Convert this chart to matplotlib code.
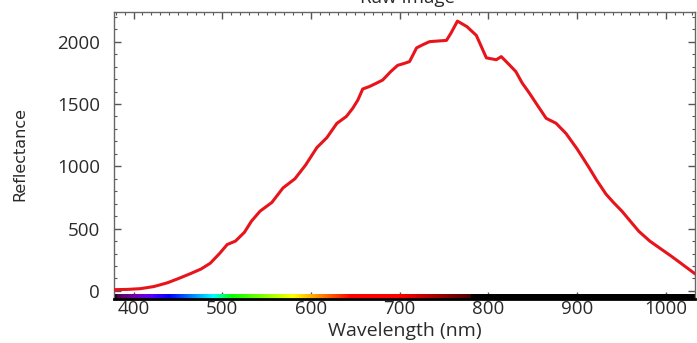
import numpy as np
import matplotlib
matplotlib.use("Agg")
import matplotlib.pyplot as plt
from matplotlib.ticker import MultipleLocator

wavelength = [378.7, 393, 407.9, 423, 438.2, 451, 464.0, 476, 486.5, 497, 505.6, 515, 525,
              533, 542.7, 556, 568.5, 582, 594, 606.7, 618, 629.2, 640, 647.2, 652.8, 658.4,
              666, 674.2, 680.9, 690, 697.8, 705, 711.2, 719.1, 726, 733.7, 743, 752.8,
              758, 765.2, 776, 786.5, 797.8, 809.0, 814.6, 823.6, 831, 838.2, 846, 853.9,
              865.2, 876.4, 887.6, 900, 913.5, 922, 932.6, 941, 950.6, 960, 969.7, 982,
              995.5, 1005, 1014.6, 1024, 1032.5]
reflectance = [10, 12, 18, 35, 65, 100, 138, 175, 222, 300, 372, 400, 470,
               560, 640, 710, 826, 900, 1010, 1150, 1230, 1344, 1400, 1466, 1530, 1620,
               1640, 1668, 1692, 1760, 1810, 1825, 1840, 1950, 1975, 2000, 2005, 2010,
               2070, 2165, 2120, 2050, 1870, 1855, 1880, 1815, 1760, 1668, 1590, 1505,
               1385, 1345, 1263, 1140, 990, 890, 777, 710, 640, 560, 478, 400,
               332, 285, 235, 185, 140]

title_text = "Raw Image"
x_label = "Wavelength (nm)"
y_label = "Reflectance"


def wl_to_rgb(w):
    if 380 <= w < 440:
        r, g, b = -(w - 440) / 60, 0.0, 1.0
    elif 440 <= w < 490:
        r, g, b = 0.0, (w - 440) / 50, 1.0
    elif 490 <= w < 510:
        r, g, b = 0.0, 1.0, -(w - 510) / 20
    elif 510 <= w < 580:
        r, g, b = (w - 510) / 70, 1.0, 0.0
    elif 580 <= w < 645:
        r, g, b = 1.0, -(w - 645) / 65, 0.0
    elif 645 <= w <= 780:
        r, g, b = 1.0, 0.0, 0.0
    else:
        r, g, b = 0.0, 0.0, 0.0
    if w < 380:
        f = 0.3
    elif w < 420:
        f = 0.3 + 0.7 * (w - 380) / 40
    elif w <= 700:
        f = 1.0
    elif w <= 780:
        f = 0.3 + 0.7 * (780 - w) / 80
    else:
        f = 0.0
    return (r * f, g * f, b * f)


fig = plt.figure(figsize=(6.97, 3.43), dpi=100)
ax = fig.add_axes([114 / 697, 44 / 343, 581 / 697, 287 / 343])

ax.plot(wavelength, reflectance, color="#e8141c", lw=2.2, zorder=3)

xmin, xmax = 378, 1033
ymin, ymax = -65, 2238

wl_grid = np.linspace(xmin, xmax, 700)
band = np.array([[wl_to_rgb(w) for w in wl_grid]])
ax.imshow(band, extent=[xmin, xmax, ymin, ymin + 35], aspect="auto", zorder=2,
          interpolation="bilinear")
ax.set_xlim(xmin, xmax)
ax.set_ylim(ymin, ymax)

ax.xaxis.set_major_locator(MultipleLocator(100))
ax.xaxis.set_minor_locator(MultipleLocator(10))
ax.yaxis.set_major_locator(MultipleLocator(500))
ax.yaxis.set_minor_locator(MultipleLocator(100))
ax.tick_params(which="both", direction="in", top=True, right=True, color="#555555")
ax.tick_params(which="major", length=5, width=1)
ax.tick_params(which="minor", length=2.5, width=0.8)
ax.tick_params(axis="both", labelsize=13.5, labelcolor="#2a2a2a")
ax.tick_params(axis="y", pad=10)
ax.tick_params(axis="x", pad=1)

for lab in ax.get_xticklabels() + ax.get_yticklabels():
    lab.set_fontfamily("Open Sans")

for s in ["left", "top", "right"]:
    ax.spines[s].set_color("#666666")
    ax.spines[s].set_linewidth(1.0)
ax.spines["bottom"].set_color("black")
ax.spines["bottom"].set_linewidth(2.0)

fig.text(405 / 697, 7 / 343, x_label, ha="center", va="baseline", fontsize=14,
         fontfamily="Open Sans", color="#2a2a2a")
fig.text(20 / 697, 1 - 154 / 343, y_label, rotation=90, ha="center", va="center",
         fontsize=11.5, fontfamily=["Liberation Sans Narrow", "DejaVu Sans"], color="#2a2a2a")
fig.text(407 / 697, 1 - 3 / 343, title_text, ha="center", va="baseline", fontsize=13.5,
         fontfamily="Open Sans", color="#2a2a2a")

fig.savefig("out.png", dpi=100)
